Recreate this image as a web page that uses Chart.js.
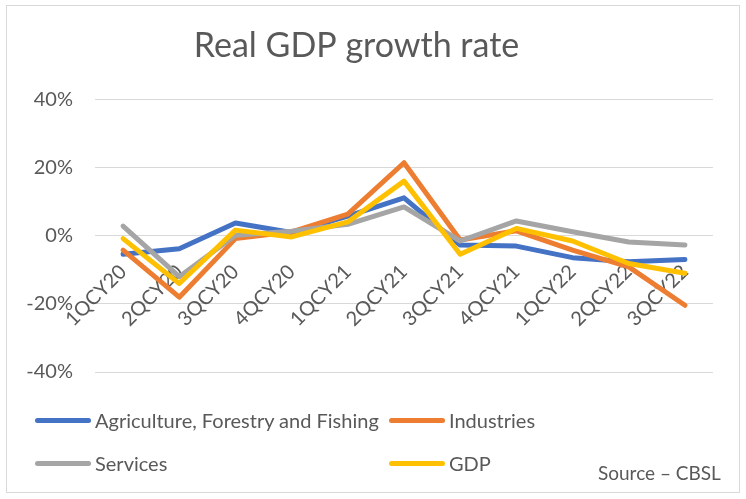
<!DOCTYPE html>
<html>
<head>
<meta charset="utf-8">
<script src="https://cdn.jsdelivr.net/npm/chart.js@4.4.0/dist/chart.umd.min.js"></script>
<style>
  html, body { margin: 0; padding: 0; background: #fff; }
  #wrap { position: relative; width: 746px; height: 499px; font-family: Lato, sans-serif; color: #595959; }
  #frame { position: absolute; left: 6px; top: 5px; width: 734px; height: 488px; border: 1px solid #D9D9D9; box-sizing: border-box; }
  canvas { position: absolute; left: 0; top: 0; }
  #legend { position: absolute; left: 0; top: 0; width: 746px; height: 499px; pointer-events: none; }
  .item { position: absolute; display: flex; align-items: center; font-size: 20px; white-space: nowrap; }
  .swatch { width: 56px; height: 5px; border-radius: 3px; margin-right: 4px; }
  #source { position: absolute; left: 598px; top: 461px; font-size: 19px; white-space: nowrap; }
</style>
</head>
<body>
<div id="wrap">
  <div id="frame"></div>
  <canvas id="chart" width="746" height="499"></canvas>
  <div id="legend"></div>
  <div id="source">Source – CBSL</div>
</div>
<script>
const quarters = ["1QCY20", "2QCY20", "3QCY20", "4QCY20", "1QCY21", "2QCY21",
  "3QCY21", "4QCY21", "1QCY22", "2QCY22", "3QCY22"]

const agriculture = [-5.4, -3.8, 3.8, 1.0, 5.8, 11.2, -2.7, -3.0, -6.4, -7.6, -6.9]
const industries = [-4.2, -18.0, -0.8, 1.2, 6.4, 21.5, -1.2, 1.5, -4.2, -9.1, -20.4]
const services = [2.9, -12.0, 0.2, 1.4, 3.4, 8.5, -1.5, 4.4, 1.2, -1.8, -2.7]
const gdp = [-0.8, -14.0, 1.7, -0.3, 4.1, 16.1, -5.4, 2.2, -1.5, -8.1, -11.0]

const yTicks = [-40, -20, 0, 20, 40]

const series = [
  { label: "Agriculture, Forestry and Fishing", data: agriculture, color: "#4472C4" },
  { label: "Industries", data: industries, color: "#ED7D31" },
  { label: "Services", data: services, color: "#A5A5A5" },
  { label: "GDP", data: gdp, color: "#FFC000" },
]

const textColor = "#595959"
const gridColor = "#D9D9D9"

const chart = new Chart(document.getElementById("chart"), {
  type: "line",
  data: {
    labels: quarters,
    datasets: series.map((s, i) => ({
      label: s.label,
      data: s.data,
      borderColor: s.color,
      backgroundColor: s.color,
      borderWidth: 5,
      pointRadius: 0,
      tension: 0,
      borderCapStyle: "round",
      borderJoinStyle: "round",
      // later series drawn on top, like Excel
      order: series.length - i,
    }))
  },
  options: {
    responsive: false,
    animation: false,
    devicePixelRatio: 1,
    layout: { padding: { left: 0, right: 33, top: 0, bottom: 127 } },
    plugins: {
      legend: { display: false },
      tooltip: { enabled: false },
      title: {
        display: true,
        text: "Real GDP growth rate",
        color: textColor,
        font: { family: "Lato", size: 34, weight: "normal" },
        padding: { top: 26, bottom: 33 },
      }
    },
    scales: {
      x: {
        type: "category",
        offset: true,
        position: { y: 0 },
        grid: { display: false, drawTicks: false },
        border: { display: false },
        ticks: {
          color: textColor,
          font: { family: "Lato", size: 20 },
          minRotation: 45,
          maxRotation: 45,
          autoSkip: false,
          padding: 24,
        }
      },
      y: {
        min: -40,
        max: 40,
        afterBuildTicks: (scale) => {
          scale.ticks = yTicks.map(v => ({ value: v }))
        },
        afterFit: (scale) => { scale.width = 95 },
        grid: { color: gridColor, lineWidth: 1, drawTicks: false },
        border: { display: false },
        ticks: {
          color: textColor,
          font: { family: "Lato", size: 20 },
          padding: 22,
          callback: (v) => `${v}%`
        }
      }
    }
  }
})

// legend in two columns, as in the source chart
const legendPos = [
  { left: 35, top: 420 },
  { left: 389, top: 420 },
  { left: 35, top: 463 },
  { left: 389, top: 463 },
]
const legend = document.getElementById("legend")
series.forEach((s, i) => {
  const item = document.createElement("div")
  item.className = "item"
  item.style.left = legendPos[i].left + "px"
  item.style.top = (legendPos[i].top - 12) + "px"
  item.style.height = "24px"
  const sw = document.createElement("span")
  sw.className = "swatch"
  sw.style.background = s.color
  const txt = document.createElement("span")
  txt.textContent = s.label
  item.appendChild(sw)
  item.appendChild(txt)
  legend.appendChild(item)
})
</script>
</body>
</html>
